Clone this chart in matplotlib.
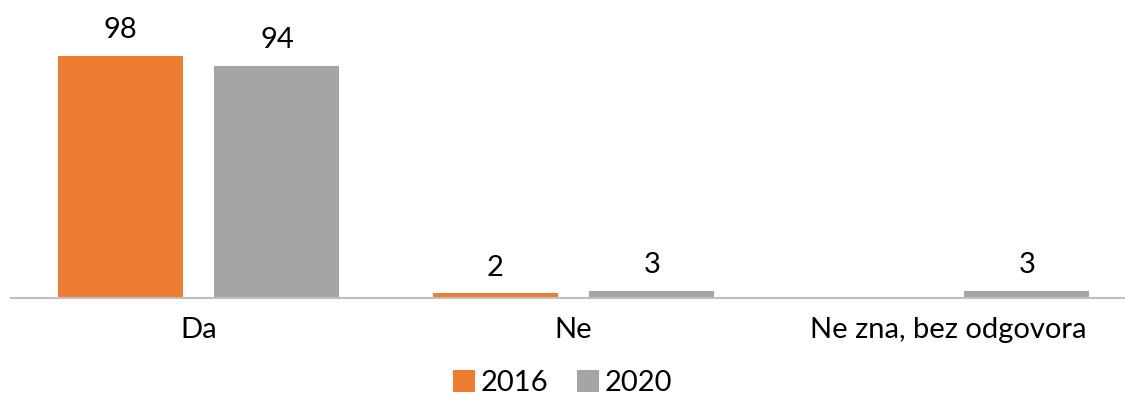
import matplotlib
matplotlib.use('Agg')
import matplotlib.pyplot as plt
import numpy as np

categories = ['Da', 'Ne', 'Ne zna, bez odgovora']
years = ['2016', '2020']
vals_2016 = [98, 2, np.nan]
vals_2020 = [94, 3, 3]
colors = ['#ED7D31', '#A5A5A5']

plt.rcParams['font.family'] = ['Lato', 'DejaVu Sans']

fig = plt.figure(figsize=(11.25, 4.04), dpi=100)
ax = fig.add_axes([11 / 1125, 106 / 404, 1113 / 1125, 278 / 404])

x = np.arange(len(categories))
w = 0.3333
off = 0.2093
series = [vals_2016, vals_2020]
for i, (yr, vals) in enumerate(zip(years, series)):
    pos = x + (off if i else -off)
    ax.bar(pos, vals, width=w, color=colors[i], label=yr)
    for p, v in zip(pos, vals):
        if not np.isnan(v):
            ax.text(p, v + 5, f'{v:g}', ha='center', va='bottom', fontsize=21, color='black')

ax.set_xlim(-0.5, 2.468)
ax.set_ylim(0, 112.5)
ax.set_xticks(x)
ax.set_xticklabels(categories, fontsize=21)
ax.tick_params(axis='x', length=0, pad=14)
ax.set_yticks([])
for s in ['top', 'right', 'left']:
    ax.spines[s].set_visible(False)
ax.spines['bottom'].set_color('#BFBFBF')
ax.spines['bottom'].set_linewidth(1.5)

fig.legend(loc='center', bbox_to_anchor=(0.5, 1 - 383 / 404), ncol=2, frameon=False,
           fontsize=21, handlelength=0.75, handleheight=0.75, handletextpad=0.2, columnspacing=1.0)

fig.savefig('out.png', dpi=100)
